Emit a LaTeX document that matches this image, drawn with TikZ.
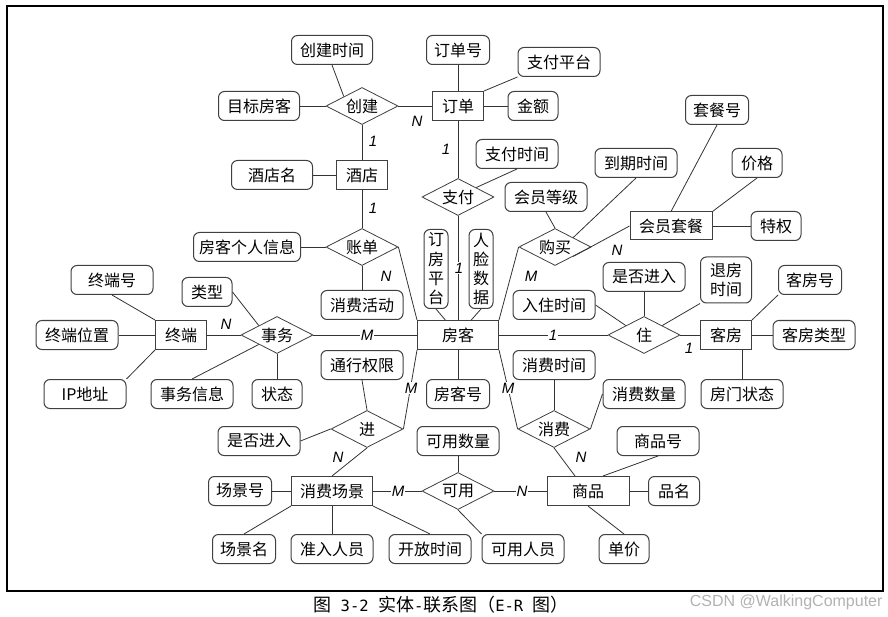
\documentclass[tikz,border=0pt]{standalone}
\usepackage{fontspec}
\setmainfont{Noto Sans CJK SC}
\newfontfamily\labfont{Liberation Sans}
\newfontfamily\capmono{DejaVu Sans Mono}
\usetikzlibrary{shapes.geometric}
\begin{document}
\begin{tikzpicture}[x=1pt,y=-1pt,
  every node/.style={font=\fontsize{16}{19}\selectfont, text=black},
  ent/.style={draw=black!75, line width=1pt, rectangle, minimum height=29pt, inner sep=0pt},
  attr/.style={draw=black!75, line width=1pt, rounded corners=6pt, minimum height=29pt, inner sep=0pt},
  rel/.style={diamond, draw=black!75, line width=0.8pt, minimum width=72pt, minimum height=37pt, inner sep=0pt, aspect=2},
  lnk/.style={draw=black!80, line width=0.8pt},
  card/.style={font=\labfont\itshape\fontsize{15}{15}\selectfont, inner sep=1pt},
  cardw/.style={card, fill=white},
  vtext/.style={attr, align=center, minimum width=24pt, minimum height=79pt, font=\fontsize{16}{19.3}\selectfont}
]
\useasboundingbox (0,0) rectangle (888,617);
\draw[line width=1.2pt] (7,6) rectangle (883,591);

% entities
\node[ent, minimum width=51pt] (dd) at (458,106) {订单};
\node[ent, minimum width=51pt] (jd) at (362,175) {酒店};
\node[ent, minimum width=82pt, minimum height=28pt] (hytc) at (671,226) {会员套餐};
\node[ent, minimum width=81pt] (fk) at (458,335) {房客};
\node[ent, minimum width=51pt] (zd) at (181,335) {终端};
\node[ent, minimum width=51pt] (kf) at (726,335) {客房};
\node[ent, minimum width=81pt] (xfcj) at (332,491) {消费场景};
\node[ent, minimum width=82pt] (sp) at (588,491) {商品};

% relations
\node[rel] (cj) at (362,106) {创建};
\node[rel] (zf) at (458,197) {支付};
\node[rel] (zdan) at (362,247) {账单};
\node[rel] (gm) at (555,247) {购买};
\node[rel] (sw) at (277,335) {事务};
\node[rel] (zhu) at (644,335) {住};
\node[rel] (jin) at (367,429) {进};
\node[rel] (xf) at (554,429) {消费};
\node[rel] (ky) at (458,491) {可用};

% attributes
\node[attr, minimum width=81pt] (cjsj) at (332,50) {创建时间};
\node[attr, minimum width=81pt] (mbfk) at (259,106) {目标房客};
\node[attr, minimum width=63pt] (ddh) at (458,50) {订单号};
\node[attr, minimum width=82pt] (zfpt) at (559,62) {支付平台};
\node[attr, minimum width=50pt] (je) at (533,106) {金额};
\node[attr, minimum width=81pt] (jdm) at (272,175) {酒店名};
\node[attr, minimum width=82pt] (zfsj) at (517,154) {支付时间};
\node[attr, minimum width=82pt] (hydj) at (546,197) {会员等级};
\node[attr, minimum width=63pt] (tch) at (717,110) {套餐号};
\node[attr, minimum width=82pt] (dqsj) at (636,163) {到期时间};
\node[attr, minimum width=50pt] (jg) at (757,163) {价格};
\node[attr, minimum width=50pt] (tq) at (776,226) {特权};
\node[attr, minimum width=107pt] (fkxx) at (247,247) {房客个人信息};
\node[attr, minimum width=82pt] (xfhd) at (362,305) {消费活动};
\node[vtext] (dfpt) at (436,269) {订\\房\\平\\台};
\node[vtext] (rlsj) at (481,269) {人\\脸\\数\\据};
\node[attr, minimum width=82pt] (rzsj) at (554,305) {入住时间};
\node[attr, minimum width=82pt] (sfjr) at (644,277) {是否进入};
\node[attr, align=center, minimum width=51pt, minimum height=46pt, font=\fontsize{16}{18.3}\selectfont] (tfsj) at (726,280) {退房\\时间};
\node[attr, minimum width=63pt] (kfh) at (810,280) {客房号};
\node[attr, minimum width=82pt] (kflx) at (814,335) {客房类型};
\node[attr, minimum width=82pt] (fmzt) at (742,394) {房门状态};
\node[attr, minimum width=82pt] (zdh) at (112,280) {终端号};
\node[attr, minimum width=82pt] (zdwz) at (77,335) {终端位置};
\node[attr, minimum width=82pt] (ip) at (85,394) {IP地址};
\node[attr, minimum width=50pt] (lx) at (207,292) {类型};
\node[attr, minimum width=82pt] (swxx) at (192,394) {事务信息};
\node[attr, minimum width=50pt] (zt) at (277,394) {状态};
\node[attr, minimum width=82pt] (txqx) at (362,365) {通行权限};
\node[attr, minimum width=63pt] (fkh) at (458,394) {房客号};
\node[attr, minimum width=82pt] (xfsj) at (554,365) {消费时间};
\node[attr, minimum width=82pt] (xfsl) at (644,394) {消费数量};
\node[attr, minimum width=82pt] (sfjr2) at (259,441) {是否进入};
\node[attr, minimum width=82pt] (kysl) at (458,441) {可用数量};
\node[attr, minimum width=82pt] (sph) at (658,441) {商品号};
\node[attr, minimum width=63pt] (cjh) at (240,491) {场景号};
\node[attr, minimum width=51pt] (pm) at (674,491) {品名};
\node[attr, minimum width=63pt] (cjm) at (244,549) {场景名};
\node[attr, minimum width=82pt] (zrry) at (332,549) {准入人员};
\node[attr, minimum width=82pt] (kfsj) at (430,549) {开放时间};
\node[attr, minimum width=82pt] (kyry) at (523,549) {可用人员};
\node[attr, minimum width=50pt] (dj) at (624,549) {单价};

% connectors
\draw[lnk] (mbfk) -- (cj);
\draw[lnk] (cj) -- (dd);
\draw[lnk] (cjsj.south) -- (cj.north west);
\draw[lnk] (cj) -- (jd);
\draw[lnk] (jdm) -- (jd);
\draw[lnk] (ddh) -- (dd);
\draw[lnk] (dd.north east) -- (zfpt.south west);
\draw[lnk] (dd) -- (je);
\draw[lnk] (dd) -- (zf);
\draw[lnk] (zfsj.south) -- (zf.north east);
\draw[lnk] (zf) -- (fk);
\draw[lnk] (jd) -- (zdan);
\draw[lnk] (fkxx) -- (zdan);
\draw[lnk] (zdan) -- (xfhd);
\draw[lnk] (zdan.east) -- (fk.north west);
\draw[lnk] (dfpt.south) -- (fk);
\draw[lnk] (rlsj.south) -- (fk);
\draw[lnk] (gm.west) -- (fk.north east);
\draw[lnk] (hydj.south) -- (gm.north);
\draw[lnk] (dqsj.south) -- (gm.north east);
\draw[lnk] (hytc.west) -- (gm.south east);
\draw[lnk] (tch.south) -- (hytc.north);
\draw[lnk] (jg.south) -- (hytc.north east);
\draw[lnk] (hytc) -- (tq);
\draw[lnk] (zdh.south) -- (zd.north west);
\draw[lnk] (zdwz) -- (zd);
\draw[lnk] (ip.north east) -- (zd.south west);
\draw[lnk] (zd) -- (sw);
\draw[lnk] (lx.east) -- (sw.north west);
\draw[lnk] (swxx.north) -- (sw.south west);
\draw[lnk] (sw) -- (zt);
\draw[lnk] (sw) -- (fk);
\draw[lnk] (fk) -- (fkh);
\draw[lnk] (fk.south west) -- (jin.east);
\draw[lnk] (txqx.south) -- (jin.north);
\draw[lnk] (sfjr2.east) -- (jin.west);
\draw[lnk] (jin.south) -- (xfcj.north);
\draw[lnk] (cjh) -- (xfcj);
\draw[lnk] (xfcj.south west) -- (cjm.north);
\draw[lnk] (xfcj) -- (zrry);
\draw[lnk] (xfcj.south east) -- (kfsj.north);
\draw[lnk] (xfcj) -- (ky);
\draw[lnk] (kysl) -- (ky);
\draw[lnk] (ky.south) -- (kyry.north west);
\draw[lnk] (ky) -- (sp);
\draw[lnk] (xf.south) -- ([xshift=-13pt]sp.north);
\draw[lnk] (sph.south) -- ([xshift=15pt]sp.north);
\draw[lnk] (sp) -- (pm);
\draw[lnk] (sp.south) -- (dj.north);
\draw[lnk] (fk.south east) -- (xf.west);
\draw[lnk] (xfsj) -- (xf);
\draw[lnk] (xfsl.west) -- (xf.east);
\draw[lnk] (rzsj.east) -- (zhu.north west);
\draw[lnk] (sfjr) -- (zhu);
\draw[lnk] (tfsj.south west) -- (zhu.north east);
\draw[lnk] (fk) -- (zhu);
\draw[lnk] (zhu) -- (kf);
\draw[lnk] (kf.north east) -- (kfh.south west);
\draw[lnk] (kf) -- (kflx);
\draw[lnk] (fmzt.north) -- (fmzt.north |- kf.south);

% cardinalities
\node[card] (c1) at (417,121) {N};
\node[card] (c2) at (373,141) {1};
\node[card] (c3) at (446,149) {1};
\node[card] (c4) at (373,208) {1};
\node[card] (c5) at (386,276) {N};
\node[cardw] (c6) at (459,268) {1};
\node[card] (c7) at (531,276) {M};
\node[card] (c8) at (617,250) {N};
\node[card] (c9) at (226,324) {N};
\node[cardw] (c10) at (367,335) {M};
\node[cardw] (c11) at (553,335) {1};
\node[card] (c12) at (689,348) {1};
\node[cardw] (c13) at (411,388) {M};
\node[cardw] (c14) at (508,388) {M};
\node[card] (c15) at (338,457) {N};
\node[card] (c16) at (581,457) {N};
\node[cardw] (c17) at (398,491) {M};
\node[cardw] (c18) at (522,491) {N};

% caption
\node[font=\fontsize{18}{18}\selectfont, inner sep=0pt] (cap) at (441,605) {图{\capmono\fontsize{15.5}{18}\selectfont\ 3-2\ }实体{\capmono\fontsize{15.5}{18}\selectfont -}联系图（{\capmono\fontsize{15.5}{18}\selectfont E-R\ }图）};
\node[anchor=east, text=black!30, font=\labfont\fontsize{16}{16}\selectfont] (wm) at (886,602) {CSDN @WalkingComputer};
\end{tikzpicture}
\end{document}
